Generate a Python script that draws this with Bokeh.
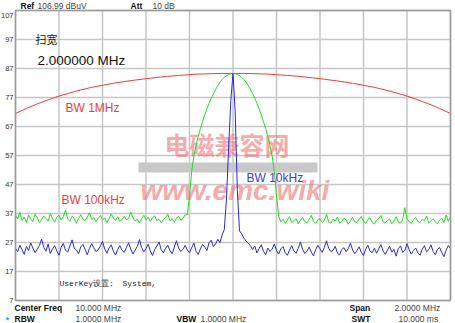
import numpy as np
from bokeh.plotting import figure
from bokeh.models import Range1d
from bokeh.core.properties import value
from bokeh.embed import file_html
from bokeh.resources import INLINE

# ---------------- data ----------------
center_mhz = 10.0
span_mhz = 2.0
y_ticks = [7, 17, 27, 37, 47, 57, 67, 77, 87, 97, 107]
y_tick_labels = ["7", "17", "27", "37", "47", "57", "67", "77", "87", "97", "107"]
x_grid = [9.0, 9.2, 9.4, 9.6, 9.8, 10.0, 10.2, 10.4, 10.6, 10.8, 11.0]

# RBW 1 MHz trace (41 sweep points)
red_vals = [71.5, 73.2, 74.8, 76.2, 77.5, 78.6, 79.6, 80.5, 81.2, 81.9,
            82.5, 83.0, 83.5, 83.9, 84.3, 84.6, 84.9, 85.1, 85.2, 85.3,
            85.3,
            85.3, 85.2, 85.1, 84.9, 84.6, 84.3, 83.9, 83.5, 83.0, 82.5,
            81.9, 81.2, 80.5, 79.6, 78.6, 77.5, 76.2, 74.8, 73.2, 71.5]

# RBW 100 kHz trace (201 sweep points)
green_left = [36.2, 35.1, 37.4, 34.6, 35.8, 33.9, 36.5, 35.0, 34.2, 36.8,
              35.5, 33.8, 34.9, 36.1, 35.3, 34.4, 37.0, 35.2, 34.0, 35.7,
              36.4, 34.8, 35.9, 38.2, 35.1, 34.3, 36.0, 35.4, 33.6, 35.2,
              36.6, 35.0, 34.5, 35.8, 37.2, 34.9, 35.6, 34.1, 35.3, 36.3,
              34.7, 35.5, 33.9, 35.1, 36.9, 35.4, 34.6, 35.9, 34.2, 35.0,
              36.1, 34.8, 35.3, 37.5, 35.6, 34.4, 35.1, 33.7, 35.2, 36.4,
              34.9, 35.7, 34.3, 35.5, 36.2, 34.6, 35.0, 33.8, 34.9, 35.6,
              36.8, 34.5, 35.2, 34.0, 35.4, 36.0, 34.7, 35.3, 36.6]
green_hump = [36.5, 43.0, 51.5, 56.8, 60.5, 63.6, 66.3, 68.7, 71.0, 73.1,
              75.0, 76.8, 78.3, 79.8, 81.1, 82.3, 83.2, 83.9, 84.5, 84.9,
              85.2, 85.3, 85.2, 84.9, 84.5, 83.9, 83.2, 82.3, 81.1, 79.8,
              78.3, 76.8, 75.0, 73.1, 71.0, 68.7, 66.3, 63.6, 60.5, 56.8,
              51.5, 43.0, 36.0]
green_right = [34.1, 35.0, 33.6, 34.8, 35.9, 33.9, 34.5, 35.3, 33.4, 34.7,
               35.6, 34.2, 33.8, 35.0, 36.4, 34.3, 33.5, 34.9, 35.2, 33.9,
               34.6, 36.8, 34.0, 33.6, 35.1, 34.4, 35.8, 33.7, 34.2, 35.4,
               34.8, 33.3, 34.5, 35.7, 34.1, 33.9, 35.0, 36.0, 34.3, 33.6,
               34.9, 35.5, 34.0, 33.4, 34.7, 35.2, 36.3, 34.2, 33.8, 34.6,
               35.1, 33.5, 34.4, 35.9, 34.0, 33.7, 34.8, 39.0, 35.3, 34.1,
               33.6, 34.9, 35.6, 34.2, 33.9, 35.0, 34.5, 36.1, 33.8, 34.4,
               35.2, 34.0, 33.5, 34.7, 35.4, 33.9, 36.5, 34.3, 35.8]

# RBW 10 kHz trace (201 sweep points)
blue_left = [25.0, 23.8, 26.1, 24.5, 22.9, 25.6, 24.2, 26.8, 25.1, 23.5,
             24.7, 26.0, 28.2, 25.3, 24.0, 26.5, 23.2, 24.8, 25.9, 24.1,
             22.6, 25.4, 26.7, 24.3, 23.7, 25.8, 27.9, 25.0, 24.4, 23.1,
             25.5, 26.3, 24.6, 22.8, 24.9, 26.6, 25.2, 23.9, 24.5, 25.7,
             27.4, 24.8, 23.3, 25.1, 26.2, 24.0, 22.7, 24.6, 25.9, 24.3,
             23.6, 25.3, 26.9, 24.7, 23.0, 24.4, 25.6, 28.0, 25.2, 23.8,
             24.9, 26.4, 24.1, 22.5, 24.6, 25.8, 27.2, 24.5, 23.4, 25.0,
             26.1, 24.2, 23.1, 25.4, 27.6, 25.1, 23.9, 24.7, 26.0, 24.4,
             23.5, 25.2, 26.8, 24.0, 22.9, 24.8, 26.3, 25.5, 24.2, 26.9,
             27.8, 25.6, 26.5, 28.1, 27.0, 29.5]
blue_peak = [31.5, 42.0, 60.0, 76.0, 85.3, 72.0, 45.0, 31.0, 30.0, 28.5, 27.5]
blue_right = [26.8, 25.9, 24.6, 25.8, 23.4, 24.9, 26.2, 24.0, 22.8, 25.1,
              23.9, 24.7, 26.5, 24.2, 23.0, 24.8, 25.6, 23.5, 22.6, 24.4,
              25.9, 24.1, 23.3, 25.0, 27.2, 24.6, 23.2, 24.0, 25.4, 23.7,
              22.4, 24.5, 26.0, 24.8, 23.6, 25.3, 27.6, 25.0, 23.9, 24.3,
              25.7, 23.4, 22.7, 24.6, 25.2, 23.8, 24.9, 26.7, 24.4, 23.1,
              24.2, 25.5, 23.6, 22.5, 24.7, 26.1, 24.0, 23.5, 25.0, 23.3,
              24.8, 26.3, 24.1, 22.9, 24.4, 25.7, 23.7, 24.6, 22.3, 24.9,
              25.8, 23.6, 24.2, 26.6, 24.5, 23.0, 24.3, 25.1, 23.4, 22.6,
              24.7, 25.9, 23.8, 24.5, 26.2, 23.9, 22.8, 24.6, 25.3, 23.5,
              22.1, 24.4, 26.0, 24.9]

green_vals = green_left + green_hump + green_right
blue_vals = blue_left + blue_peak + blue_right

f_start = center_mhz - span_mhz / 2
f_stop = center_mhz + span_mhz / 2
red_f = np.linspace(f_start, f_stop, len(red_vals))
green_f = np.linspace(f_start, f_stop, len(green_vals))
blue_f = np.linspace(f_start, f_stop, len(blue_vals))

# ---------------- geometry ----------------
W, H = 455, 323
FL, FR, FT, FB = 15, 450, 10, 300          # trace area on the page, px
y_lo, y_hi = y_ticks[0], y_ticks[-1]
mhz_per_px = span_mhz / (FR - FL)
db_per_px = (y_hi - y_lo) / (FB - FT)

# the plot frame fills the page; the trace area is a sub-rectangle of it
p = figure(width=W, height=H,
           x_range=Range1d(f_start - FL * mhz_per_px, f_stop + (W - FR) * mhz_per_px),
           y_range=Range1d(y_lo - (H - FB) * db_per_px, y_hi + FT * db_per_px),
           output_backend="svg", toolbar_location=None,
           x_axis_location=None, y_axis_location=None,
           min_border=0)
p.background_fill_color = "white"
p.border_fill_color = "white"
p.outline_line_color = None
p.xgrid.visible = False
p.ygrid.visible = False


def at(px, py):
    return (f_start + (px - FL) * mhz_per_px, y_hi - (py - FT) * db_per_px)


def txt(t, px, py, size="8.5px", color="#222222", style="normal",
        font="Liberation Sans", alpha=1.0, align="left"):
    x, y = at(px, py)
    p.text(x=[x], y=[y], text=[t], text_font=value(font),
           text_font_size=value(size), text_color=color,
           text_font_style=style, text_baseline="middle",
           text_align=align, text_alpha=alpha)


# grid
n_x, n_y = len(x_grid), len(y_ticks)
p.segment(x0=x_grid, y0=[y_lo] * n_x, x1=x_grid, y1=[y_hi] * n_x,
          line_color="#c6c6c6", line_width=1.5)
p.segment(x0=[f_start] * n_y, y0=y_ticks, x1=[f_stop] * n_y, y1=y_ticks,
          line_color="#c6c6c6", line_width=1.5)

# y tick labels
lab_x = f_start - 2 * mhz_per_px
offs = [0] * (n_y - 1) + [5]
p.text(x=[lab_x] * n_y, y=y_ticks, text=y_tick_labels,
       text_font=value("Liberation Sans"), text_font_size=value("7.5px"),
       text_color="#333333", text_align="right", text_baseline="middle",
       y_offset=offs)

# watermark
bx0, by0 = at(138, 162)
bx1, by1 = at(317, 172)
p.quad(left=[bx0], right=[bx1], top=[by0], bottom=[by1],
       fill_color="#c8c8c8", line_color=None)
txt("电磁兼容网", 164, 143, size="25px", color="#f07070", style="bold",
    font="Noto Sans CJK SC", alpha=0.6)
txt("www.emc.wiki", 140, 190, size="28px", color="#f07070",
    style="bold italic", alpha=0.6)

# traces
p.line(red_f, red_vals, line_color="#f03c3c", line_width=1)
p.line(green_f, green_vals, line_color="#22dd22", line_width=1)
p.line(blue_f, blue_vals, line_color="#2a2ae0", line_width=1)

# trace-area border
p.quad(left=[f_start], right=[f_stop], top=[y_hi], bottom=[y_lo],
       fill_color=None, line_color="#9a9a9a", line_width=1.5)

# header
txt("Ref", 20, 5, style="bold", color="#111111")
txt("106.99 dBuV", 37, 5, color="#444444")
txt("Att", 130, 5, style="bold", color="#111111")
txt("10 dB", 152, 5, color="#444444")

# inside texts
txt("扫宽", 35, 38, size="11px", color="#222222", font="Noto Sans CJK SC")
txt("2.000000 MHz", 37, 60, size="13.5px", color="#111111")
txt("BW 1MHz", 65, 107, size="12px", color="#f03c3c")
txt("BW 100kHz", 61, 199, size="12px", color="#f03c3c")
txt("BW 10kHz", 246, 177, size="12px", color="#3a3ad8")
txt("UserKey设置:", 59, 283, size="8px", color="#222222", font="Liberation Mono")
txt("System,", 122, 283, size="8px", color="#222222", font="Liberation Mono")

# footer
txt("Center Freq", 14, 307, style="bold", color="#111111")
txt("10.000 MHz", 75, 307, color="#444444")
txt("Span", 349, 307, style="bold", color="#111111")
txt("2.0000 MHz", 394, 307, color="#444444")
txt("*", 5, 319, size="9px", color="#00b8e0", style="bold")
txt("RBW", 14, 318, style="bold", color="#111111")
txt("1.0000 MHz", 75, 318, color="#444444")
txt("VBW", 176, 318, style="bold", color="#111111")
txt("1.0000 MHz", 200, 318, color="#444444")
txt("SWT", 351, 318, style="bold", color="#111111")
txt("10.000 ms", 398, 318, color="#444444")

open("out.html", "w").write(file_html(p, INLINE))
